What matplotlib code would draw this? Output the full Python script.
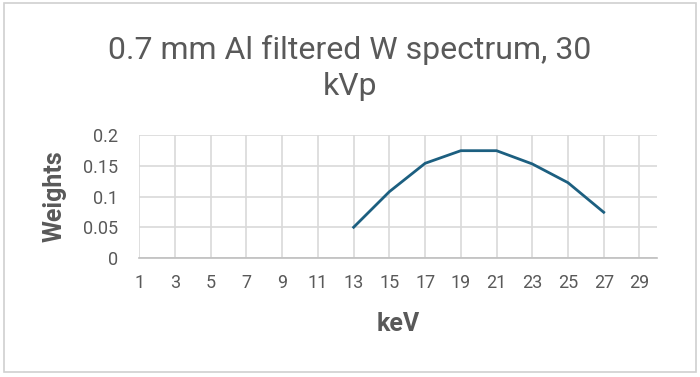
import numpy as np
import matplotlib
matplotlib.use("Agg")
import matplotlib.pyplot as plt
from matplotlib.patches import Rectangle

# keV bins and spectrum weights
kev = [13, 15, 17, 19, 21, 23, 25, 27]
weights = [0.0503, 0.108, 0.154, 0.1745, 0.1745, 0.153, 0.1226, 0.0746]
xticks = list(range(1, 30, 2))
yticks = [0, 0.05, 0.1, 0.15, 0.2]
ytick_labels = ["0", "0.05", "0.1", "0.15", "0.2"]

title = "0.7 mm Al filtered W spectrum, 30\nkVp"
line_color = "#1c5f80"
text_color = "#595959"
grid_color = "#d9d9d9"

plt.rcParams['font.family'] = ['Roboto', 'DejaVu Sans']

fig = plt.figure(figsize=(7, 3.77), dpi=100)
fig.patch.set_facecolor("white")
fig.add_artist(Rectangle((0.006, 0.012), 0.988, 0.98, transform=fig.transFigure,
                         fill=False, edgecolor="#d0d0d0", linewidth=1.2))

ax = fig.add_axes([0.199, 0.315, 0.74, 0.327])
ax.plot(kev, weights, color=line_color, linewidth=2.0, solid_joinstyle="miter")

ax.set_xlim(1, 30)
ax.set_ylim(0, 0.2)
ax.set_xticks(xticks)
ax.set_yticks(yticks)
ax.set_yticklabels(ytick_labels)
ax.grid(True, color=grid_color, linewidth=1.2)
ax.set_axisbelow(True)
ax.tick_params(length=0, colors=text_color, labelsize=13)
ax.tick_params(axis="x", pad=11)
ax.tick_params(axis="y", pad=15)
for side in ["top", "right", "left"]:
    ax.spines[side].set_visible(False)
ax.spines["bottom"].set_color("#bfbfbf")
ax.spines["bottom"].set_linewidth(1.2)

ax.set_xlabel("keV", fontsize=18, fontweight="bold", color=text_color, labelpad=15)
ax.set_ylabel("Weights", fontsize=18, fontweight="bold", color=text_color, labelpad=12)

fig.text(0.5, 0.82, title, ha="center", va="center", fontsize=23,
         color=text_color, linespacing=1.3)

fig.savefig("out.png", dpi=100)
